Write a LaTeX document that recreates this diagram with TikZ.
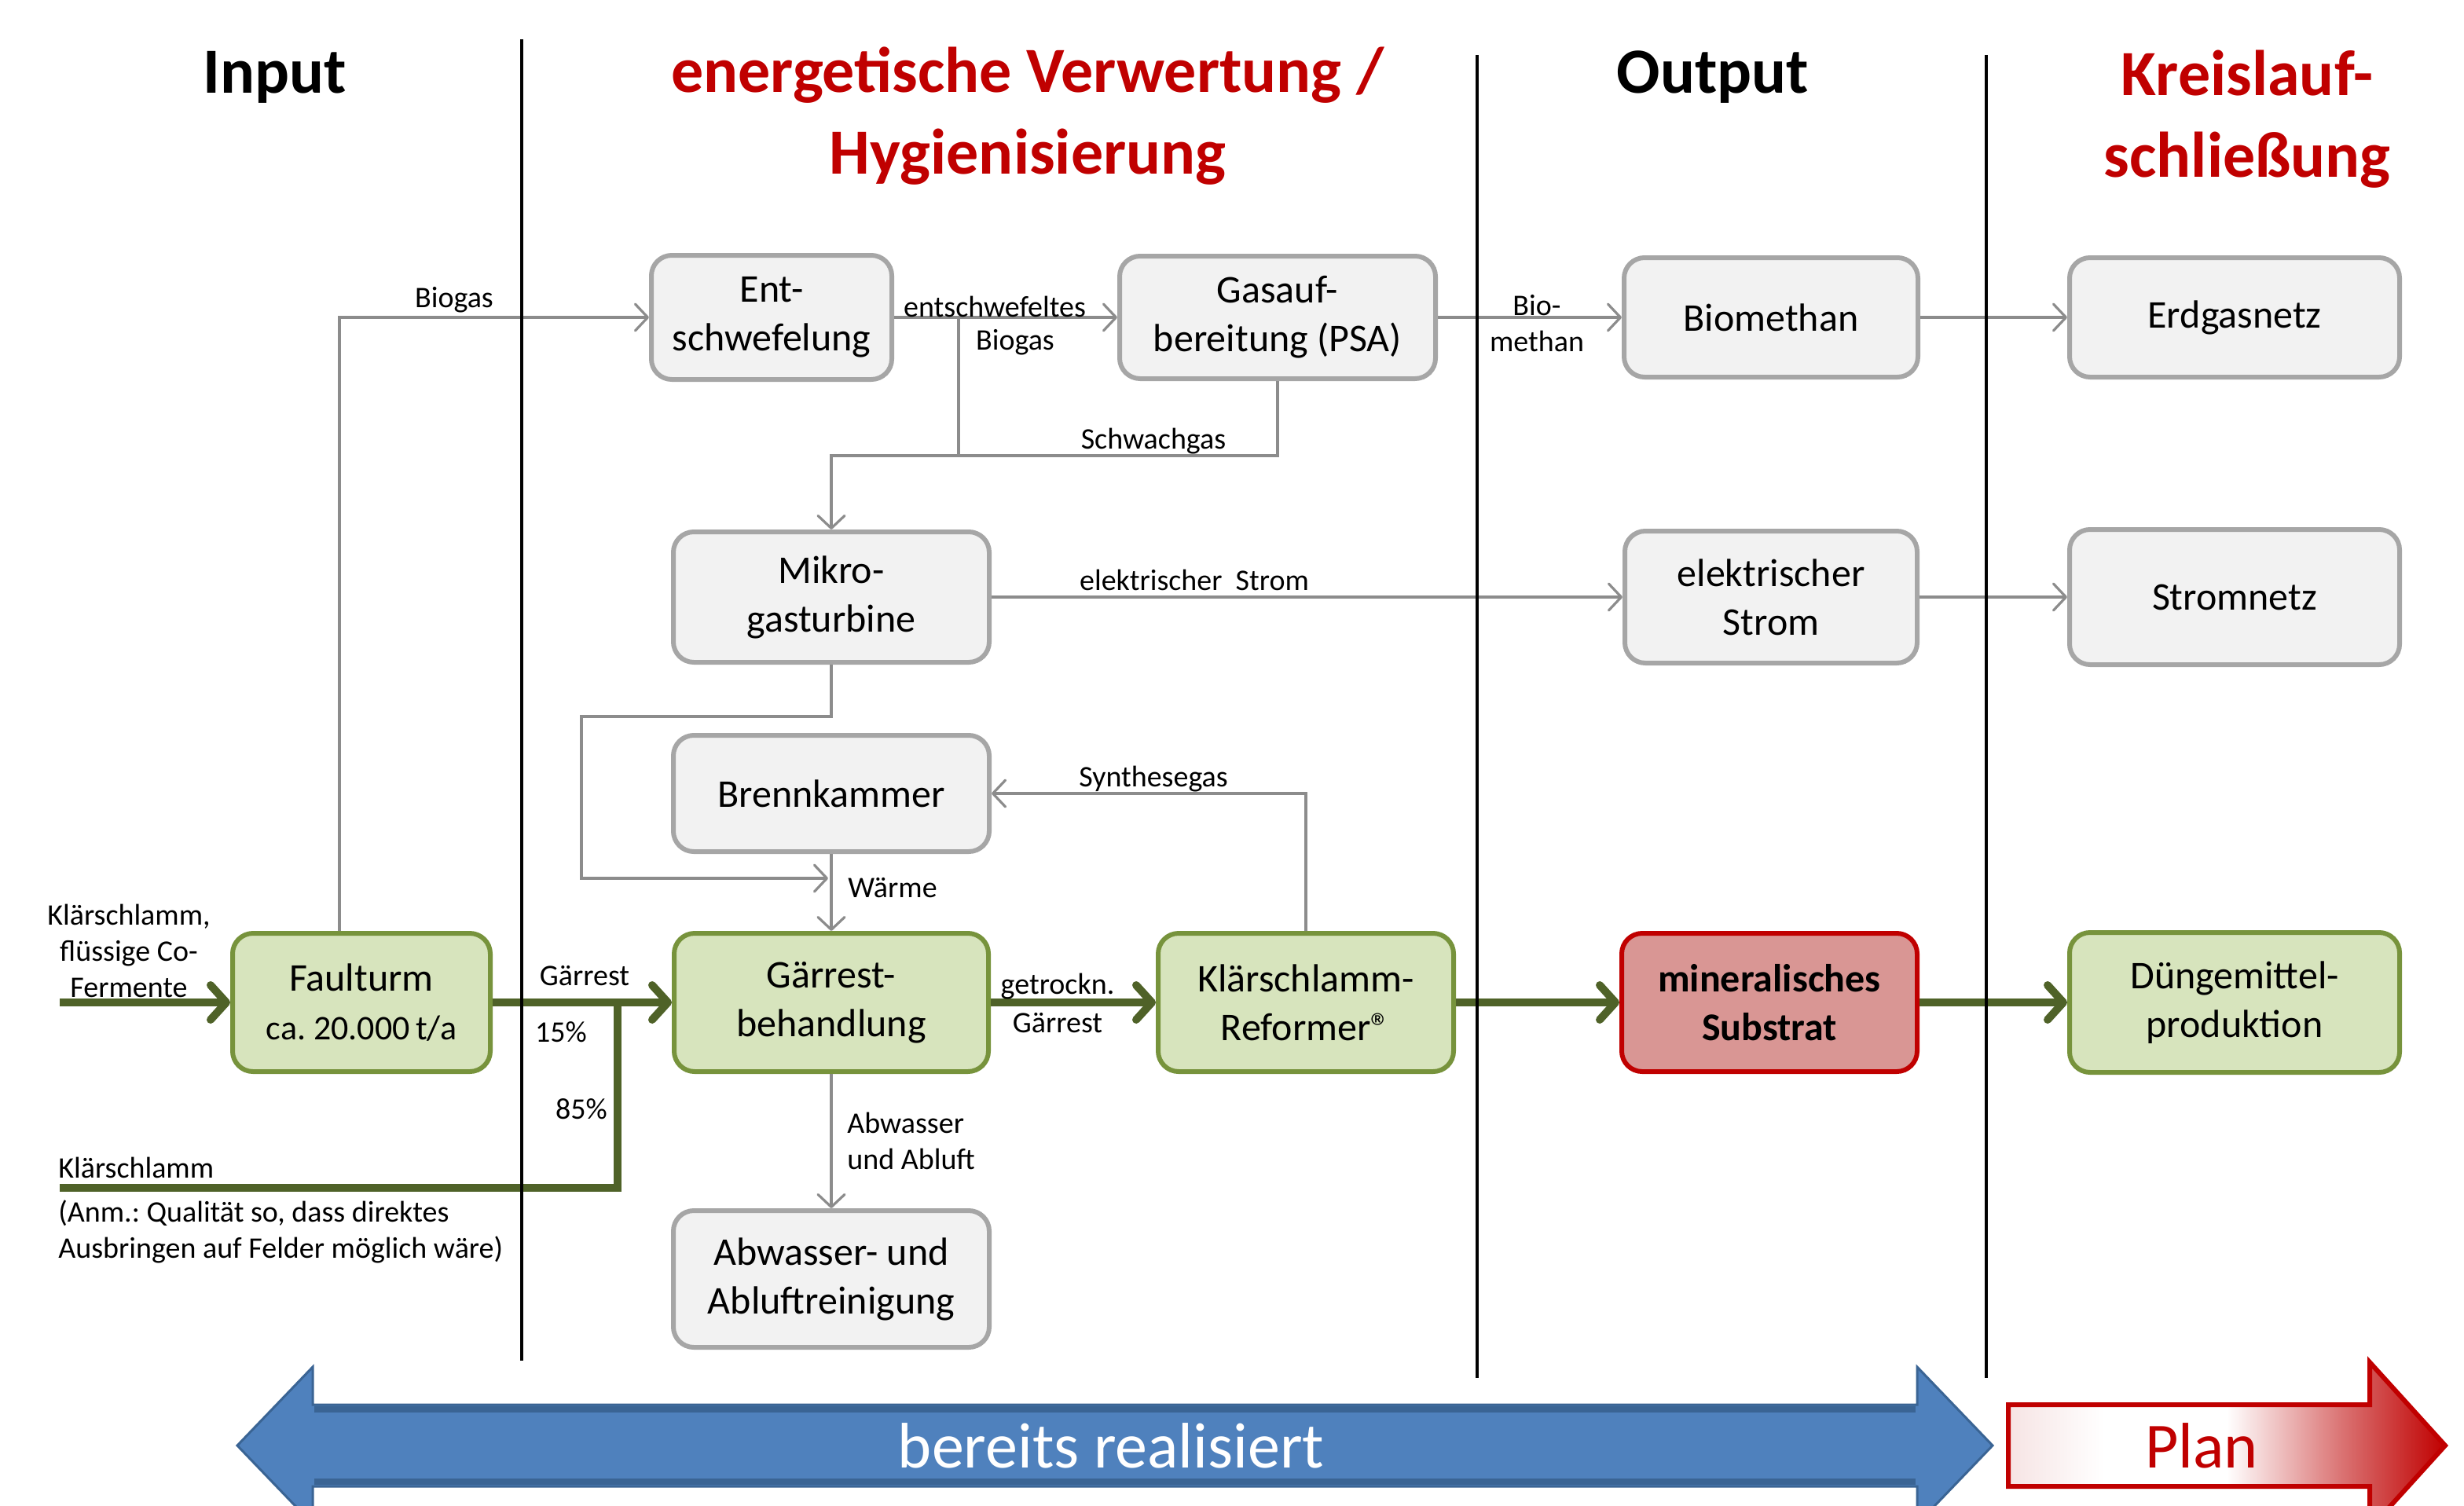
\documentclass[tikz,border=0pt]{standalone}
\usepackage{fontspec}
\setmainfont{Carlito}
\frenchspacing
\usetikzlibrary{arrows.meta}
\definecolor{BoxGray}{HTML}{F2F2F2}
\definecolor{BoxGrayLine}{HTML}{A6A6A6}
\definecolor{ConnGray}{HTML}{8C8C8C}
\definecolor{BoxGreen}{HTML}{D7E4BD}
\definecolor{BoxGreenLine}{HTML}{77933C}
\definecolor{ArrGreen}{HTML}{4F6228}
\definecolor{BoxRed}{HTML}{D99694}
\definecolor{DarkRed}{HTML}{C00000}
\definecolor{BandBlue}{HTML}{4F81BD}
\definecolor{BandBlueLine}{HTML}{3A6494}
\definecolor{PlanA}{HTML}{F6E4E4}
\definecolor{PlanB}{HTML}{D86A6A}
\pgfdeclarehorizontalshading{planshade}{100bp}{color(0bp)=(PlanA); color(25bp)=(PlanA); color(36bp)=(white); color(50bp)=(white); color(64bp)=(PlanB); color(75bp)=(DarkRed); color(100bp)=(DarkRed)}
\newcommand\boxfont{\fontsize{25}{31}\selectfont}
\newcommand\smallboxfont{\fontsize{22}{28}\selectfont}
\newcommand\lblfont{\fontsize{19}{23}\selectfont}
\newcommand\headfont{\fontsize{41}{52}\selectfont\bfseries}
\newcommand\bandfont{\fontsize{41}{48}\selectfont}
\begin{document}
\begin{tikzpicture}[x=1pt,y=-1pt,
  box/.style={rectangle, rounded corners=13pt, line width=3pt, align=center, font=\boxfont, inner sep=0pt},
  graybox/.style={box, draw=BoxGrayLine, fill=BoxGray},
  greenbox/.style={box, draw=BoxGreenLine, fill=BoxGreen},
  redbox/.style={box, draw=DarkRed, fill=BoxRed, font=\boxfont\bfseries},
  conn/.style={draw=ConnGray, line width=1.6pt},
  connarr/.style={conn, -{Straight Barb[round,length=8pt,width=17pt]}},
  gline/.style={draw=ArrGreen, line width=5pt},
  garr/.style={gline, -{Straight Barb[round,length=10pt,width=22pt]}},
  lbl/.style={font=\lblfont, inner sep=0pt, align=center},
  head/.style={font=\headfont, align=center, inner sep=0pt},
  divider/.style={draw=black, line width=2.4pt}]
\useasboundingbox (0,0) rectangle (1568,958);

% headings
\node[head] (hin) at (175,49) {Input};
\node[head, text=DarkRed] (hev) at (654,74) {energetische Verwertung /\\Hygienisierung};
\node[head] (hout) at (1090,49) {Output};
\node[head, text=DarkRed] (hkr) at (1430,76) {Kreislauf-\\schließung};

% boxes
\node[graybox, minimum width=153pt, minimum height=79pt] (ent) at (491,202) {Ent-\\schwefelung};
\node[graybox, minimum width=201pt, minimum height=78pt] (gas) at (813,202) {Gasauf-\\bereitung (PSA)};
\node[graybox, minimum width=187pt, minimum height=76pt] (biom) at (1127,202) {Biomethan};
\node[graybox, minimum width=210pt, minimum height=76pt] (erdg) at (1422,202) {Erdgasnetz};
\node[graybox, minimum width=201pt, minimum height=83pt] (mikro) at (529,380) {Mikro-\\gasturbine};
\node[graybox, minimum width=186pt, minimum height=84pt] (estrom) at (1127,380) {elektrischer\\Strom};
\node[graybox, minimum width=210pt, minimum height=86pt] (stromn) at (1422,380) {Stromnetz};
\node[graybox, minimum width=201pt, minimum height=74pt] (brenn) at (529,505) {Brennkammer};
\node[greenbox, minimum width=164pt, minimum height=88pt] (faul) at (230,638) {Faulturm\\{\smallboxfont ca. 20.000\,t/a}};
\node[greenbox, minimum width=200pt, minimum height=88pt] (gaer) at (529,638) {Gärrest-\\behandlung};
\node[greenbox, minimum width=188pt, minimum height=88pt] (ref) at (831,638) {Klärschlamm-\\Reformer®};
\node[redbox, minimum width=188pt, minimum height=88pt] (mineral) at (1126,638) {mineralisches\\Substrat};
\node[greenbox, minimum width=210pt, minimum height=89pt] (duenge) at (1422,638) {Düngemittel-\\produktion};
\node[graybox, minimum width=201pt, minimum height=87pt] (abw) at (529,814) {Abwasser- und\\Abluftreinigung};

% gray connectors
\coordinate (j1) at (610,202);
\coordinate (j2) at (610,290);
\coordinate (w1) at (370,456);
\coordinate (w2) at (370,559);
\coordinate (w3) at (527,559);
\draw[connarr] ([xshift=-14pt]faul.north) |- (ent.west);
\draw[connarr] (ent.east) -- (gas.west);
\draw[conn] (j1) -- (j2);
\draw[conn] (gas.south) |- (j2);
\draw[connarr] (j2) -| (mikro.north);
\draw[connarr] (gas.east) -- (biom.west);
\draw[connarr] (biom.east) -- (erdg.west);
\draw[connarr] (mikro.east) -- (estrom.west);
\draw[connarr] (estrom.east) -- (stromn.west);
\draw[connarr] (mikro.south) |- (w1) -- (w2) -- (w3);
\draw[connarr] (brenn.south) -- (gaer.north);
\draw[connarr] (ref.north) |- (brenn.east);
\draw[connarr] (gaer.south) -- (abw.north);

% green connectors
\coordinate (in1) at (38,638);
\coordinate (in2) at (38,756);
\coordinate (k1) at (393,756);
\draw[garr] (in1) -- (faul.west);
\draw[garr] (faul.east) -- (gaer.west);
\draw[gline] (in2) -- (k1) -- (k1 |- faul.east);
\draw[garr] (gaer.east) -- (ref.west);
\draw[garr] (ref.east) -- (mineral.west);
\draw[garr] (mineral.east) -- (duenge.west);

% labels
\node[lbl] (lbiogas) at (289,191) {Biogas};
\node[lbl] (lentsch) at (633,195) {entschwefeltes};
\node[lbl] (lbiogas2) at (646,218) {Biogas};
\node[lbl] (lschwach) at (734,281) {Schwachgas};
\node[lbl] (lbiometh) at (978,206) {Bio-\\methan};
\node[lbl] (lstrom) at (760,369) {elektrischer~ Strom};
\node[lbl] (lsynth) at (734,496) {Synthesegas};
\node[lbl] (lwaerme) at (568,565) {Wärme};
\node[lbl, align=left, anchor=west] (labw) at (539,726) {Abwasser\\und Abluft};
\node[lbl] (linput) at (82,605) {Klärschlamm,\\flüssige Co-\\Fermente};
\node[lbl] (lgaer) at (372,621) {Gärrest};
\node[lbl] (l15) at (357,657) {15\%};
\node[lbl] (l85) at (370,706) {85\%};
\node[lbl, anchor=west] (lks) at (37,743) {Klärschlamm};
\node[lbl, align=left, anchor=west] (lanm) at (37,784) {(Anm.: Qualität so, dass direktes\\Ausbringen auf Felder möglich wäre)};
\node[lbl] (lgetr) at (673,628) {getrockn.};
\node[lbl] (lgaer2) at (673,651) {Gärrest};

% dividers
\draw[divider] (332,25) -- (332,866);
\draw[divider] (940,35) -- (940,877);
\draw[divider] (1264,35) -- (1264,877);

% bottom bands
\begin{scope}
\clip (0,0) rectangle (1568,958);
\filldraw[fill=BandBlue, draw=BandBlueLine, line width=1.5pt, line join=miter]
  (151,920) -- (199,870) -- (199,894) -- (1220,894) -- (1220,870) -- (1268,920)
  -- (1220,970) -- (1220,946) -- (199,946) -- (199,970) -- cycle;
\draw[draw=BandBlueLine, line width=4pt] (200,897) -- (1219,897);
\draw[draw=BandBlueLine, line width=4pt] (200,943) -- (1219,943);
\node[font=\bandfont, text=white, inner sep=0pt] (lbereit) at (707,920) {bereits realisiert};
\shadedraw[shading=planshade, draw=DarkRed, line width=3pt, line join=miter]
  (1278,894) -- (1508,894) -- (1508,867) -- (1556,920) -- (1508,973) -- (1508,946) -- (1278,946) -- cycle;
\node[font=\bandfont, text=DarkRed, inner sep=0pt] (lplan) at (1401,920) {Plan};
\end{scope}
\end{tikzpicture}
\end{document}
